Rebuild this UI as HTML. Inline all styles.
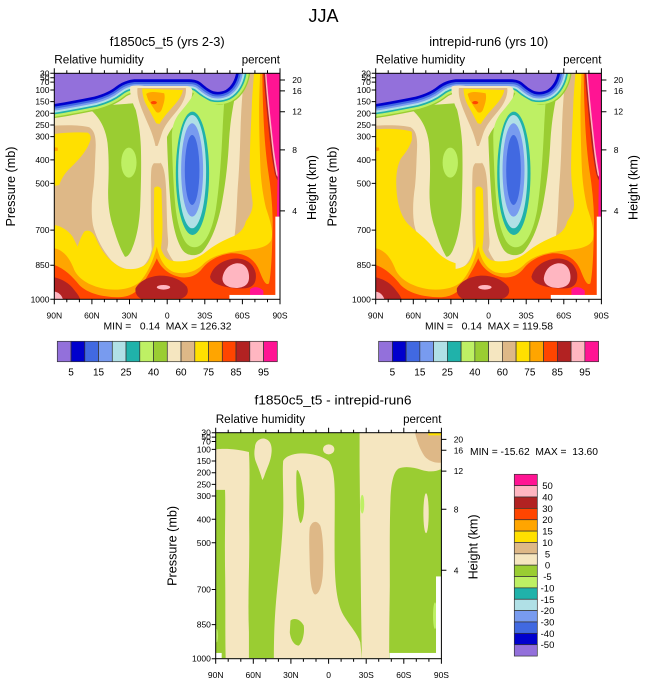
<!DOCTYPE html>
<html><head><meta charset="utf-8">
<style>
html,body{margin:0;padding:0;background:#fff;}
svg{display:block;font-family:"Liberation Sans",Arial,sans-serif;}
</style></head>
<body>
<svg width="647" height="683" viewBox="0 0 647 683" xmlns="http://www.w3.org/2000/svg">
<defs>
<clipPath id="cp"><rect x="0" y="0" width="678" height="678"/></clipPath>
<path id="P" d="M-200,-200 L548,-200 L546,0 C542,20 532,40 515,50 C502,56 490,57 478,54 C462,48 452,38 440,28 C428,20 418,18 400,18 L240,18 C220,20 200,28 185,40 C170,52 150,62 120,70 C80,78 40,86 0,92 L-120,110 Z"/>

<g id="L1">
<rect x="0" y="0" width="678" height="678" fill="#DEB887"/>
<path fill="#F5E6C0" d="M0,157 C40,155 80,155 105,162 C122,172 126,195 124,230 C122,270 122,300 118,340 C112,380 110,420 116,455 C124,490 145,530 170,560 C190,580 215,590 240,590 C262,588 278,572 288,545 C294,525 298,510 300,500 L330,500 C336,530 350,560 372,576 C400,592 440,590 480,575 C510,560 530,535 540,500 C548,450 548,380 552,330 C556,280 558,220 560,150 C562,100 565,50 572,0 L0,0 Z"/>
<path fill="#DEB887" d="M292,285 C295,270 305,262 316,265 C328,275 334,300 336,350 C338,400 338,450 341,490 C344,515 340,540 325,548 C310,552 298,548 293,530 C290,490 290,420 290,370 C290,330 290,300 292,285 Z"/>
</g>

<g id="RX">
<path fill="#FFE000" d="M0,168 C40,165 90,168 108,175 C112,195 100,220 82,245 C66,268 60,300 62,340 C64,390 75,430 100,455 C125,478 150,495 170,520 C190,545 210,560 240,570 L240,678 L0,678 Z"/>
<path fill="#FFA500" d="M0,210 L15,215 L18,240 L12,268 L0,270 Z"/>
</g>

<g id="L2">
<path fill="#FFE000" d="M0,455 C20,458 40,470 55,490 L70,520 C75,505 80,490 90,475 C100,468 115,472 125,495 C140,530 160,560 200,583 C230,592 260,588 280,568 C292,550 300,520 310,470 C316,520 325,550 345,560 C380,570 420,562 450,540 C480,515 510,500 540,488 C560,478 572,462 575,445 C585,430 596,415 596,390 C592,350 586,320 587,270 C588,200 592,140 594,80 C596,50 598,25 600,0 L678,0 L678,678 L0,678 Z"/>
<path fill="#FFE000" d="M300,345 C304,337 318,337 322,350 L325,450 C325,500 320,530 314,560 L304,560 C301,520 299,480 299,450 Z"/>
<path fill="#FFE000" d="M0,182 C30,178 70,176 100,178 C110,183 112,195 105,210 C95,235 75,258 50,282 C30,300 20,320 15,335 L0,338 Z"/>
<path fill="#FFA500" d="M0,222 L10,223 L11,232 L0,234 Z"/>
<path fill="#FFA500" d="M0,525 C25,530 45,550 60,590 C75,620 110,640 160,648 C200,652 235,645 258,625 C280,600 298,560 308,520 C315,555 330,585 360,597 C400,606 430,592 450,570 C475,548 510,538 560,532 C600,528 640,525 652,500 C658,475 650,445 636,405 C628,370 621,330 619,280 C616,200 614,120 616,60 L618,0 L678,0 L678,678 L0,678 Z"/>
<path fill="#FF4500" d="M0,575 C30,585 55,610 75,635 C100,660 140,670 190,672 C230,672 250,655 268,628 C285,600 300,575 308,555 C320,585 345,605 380,612 C410,615 430,605 445,585 C465,560 495,545 530,540 C570,538 600,555 615,590 C625,615 635,640 645,630 C652,600 655,520 656,440 C655,390 650,340 642,290 C635,240 630,180 628,120 C626,70 625,30 625,0 L678,0 L678,678 L0,678 Z"/>
<path fill="#B22222" d="M628,0 C632,50 638,110 645,180 C650,230 656,270 662,300 C666,315 672,325 678,330 L678,0 Z"/>
<path fill="#FFB6C1" d="M633,0 C637,60 643,120 651,190 C656,240 661,275 667,305 L678,322 L678,0 Z"/>
<path fill="#FF1493" d="M637,0 C641,55 648,120 656,195 C660,235 665,265 670,295 C673,320 676,340 678,360 L678,0 Z"/>
<path fill="#FF1493" d="M671,300 L678,298 L678,430 L669,430 C669,380 670,340 671,300 Z"/>
<path fill="#B22222" d="M0,612 C25,618 45,630 60,650 C70,662 75,670 78,678 L0,678 Z"/>
<path fill="#FFB6C1" d="M0,655 C12,656 22,665 26,678 L0,678 Z"/>
<path fill="#B22222" d="M244,645 C255,625 280,610 315,607 C350,606 380,618 398,640 C405,655 400,670 380,676 L260,676 C248,670 242,658 244,645 Z"/>
<ellipse cx="328" cy="642" rx="20" ry="7" fill="#FFB6C1"/>
<path fill="#B22222" d="M468,610 C475,580 505,560 540,556 C575,554 598,570 605,600 C608,625 600,642 575,645 C540,648 500,640 480,628 C472,622 468,616 468,610 Z"/>
<path fill="#FFB6C1" d="M505,615 C508,590 525,572 550,570 C575,570 585,590 585,612 C585,630 575,642 550,644 C525,645 505,635 505,615 Z"/>
<path fill="#FF1493" d="M588,648 C600,638 615,640 628,652 L628,665 L588,665 Z"/>
<rect x="526" y="665" width="152" height="13" fill="#fff"/>
<rect x="664" y="430" width="14" height="248" fill="#fff"/>
</g>

<g id="L3">
<path fill="#9ACD32" d="M100,100 L240,90 C250,130 258,170 260,220 C262,280 260,350 258,400 C255,460 245,500 232,530 C225,545 218,552 212,550 C200,530 190,505 178,465 C166,430 160,390 162,340 C164,290 164,250 160,210 C155,170 140,140 118,118 Z"/>
<ellipse cx="224" cy="268" rx="23" ry="45" fill="#BEF064"/>
<path fill="#9ACD32" d="M330,60 L545,60 C536,100 528,150 525,200 C522,260 516,320 505,380 C495,440 475,500 445,535 C430,550 400,550 385,530 C365,500 355,450 350,400 C344,330 340,250 338,180 C336,130 333,90 330,60 Z"/>
<g stroke-linejoin="round">
<use href="#P" fill="#9ACD32" stroke="#9ACD32" stroke-width="84"/>
<use href="#P" fill="#BEF064" stroke="#BEF064" stroke-width="76"/>
<use href="#P" fill="#20B2AA" stroke="#20B2AA" stroke-width="62"/>
<use href="#P" fill="#B0E0E6" stroke="#B0E0E6" stroke-width="52"/>
<use href="#P" fill="#789BEF" stroke="#789BEF" stroke-width="40"/>
<use href="#P" fill="#4169E1" stroke="#4169E1" stroke-width="28"/>
<use href="#P" fill="#0000CD" stroke="#0000CD" stroke-width="16"/>
<use href="#P" fill="#9370DB"/>
</g>
<path fill="#F5E6C0" d="M228,40 C235,36 250,36 270,38 L390,38 C405,38 415,42 415,55 C414,80 400,110 375,140 C355,160 340,180 330,215 C326,240 322,262 318,270 L300,270 C296,250 290,220 282,195 C270,160 255,130 240,100 C232,80 226,55 228,40 Z"/>
<path fill="#DEB887" d="M250,44 L395,44 C398,60 390,85 372,108 C355,130 335,150 325,175 C318,195 314,210 310,218 L304,218 C300,200 294,180 285,160 C272,130 258,100 252,75 C249,62 249,50 250,44 Z"/>
<path fill="#FFE000" d="M264,46 L386,50 C385,62 375,80 358,98 C340,118 325,135 316,152 L306,150 C296,130 285,110 275,92 C268,78 264,60 264,46 Z"/>
<path fill="#FFA500" d="M276,62 C285,55 300,54 330,60 C334,72 330,90 322,110 C318,118 312,120 306,116 C298,105 290,92 282,80 Z"/>
<ellipse cx="299" cy="88" rx="9" ry="5" fill="#FF4500"/>
<path fill="#BEF064" d="M420,60 C440,66 458,78 478,92 C490,96 500,96 510,92 C508,120 506,160 504,200 C500,280 494,350 485,410 C474,470 458,500 440,515 C422,528 402,522 390,500 C374,470 366,430 362,380 C357,320 354,250 353,190 C353,160 362,135 380,115 C395,98 410,78 420,60 Z"/>
<ellipse cx="415" cy="300" rx="50" ry="185" fill="#20B2AA"/>
<ellipse cx="414" cy="295" rx="42" ry="170" fill="#B0E0E6"/>
<ellipse cx="414" cy="290" rx="33" ry="140" fill="#789BEF"/>
<ellipse cx="414" cy="290" rx="22" ry="105" fill="#4169E1"/>
</g>

<g id="D">
<rect x="0" y="0" width="678" height="678" fill="#9ACD32"/>
<path fill="#F5E6C0" d="M0,50 C30,46 70,50 100,58 C104,120 100,200 101,300 C102,400 96,500 100,600 L100,678 L30,678 C28,600 30,500 28,400 C27,300 30,220 28,172 L0,172 Z"/>
<path fill="#F5E6C0" d="M118,45 C118,25 135,15 148,18 C165,22 170,40 168,60 C166,85 155,105 148,125 C145,135 142,140 140,142 C136,125 128,105 120,85 C115,70 116,55 118,45 Z"/>
<path fill="#F5E6C0" d="M203,85 C210,70 235,62 260,62 C290,62 320,70 340,85 C352,100 357,130 358,170 C359,230 357,300 358,380 C359,440 362,500 380,540 C395,570 425,600 435,630 L440,678 L175,678 C175,600 178,540 185,470 C192,400 200,330 203,250 C205,180 200,120 203,85 Z"/>
<ellipse cx="340" cy="50" rx="17" ry="15" fill="#F5E6C0"/>
<path fill="#9ACD32" d="M245,112 C252,112 262,150 266,200 C268,240 262,268 255,272 C248,262 244,220 243,180 C242,140 242,115 245,112 Z"/>
<path fill="#DEB887" d="M283,285 C290,265 305,262 315,280 C324,310 326,380 322,430 C318,470 308,488 298,486 C288,480 284,440 283,400 C282,350 280,310 283,285 Z"/>
<path fill="#9ACD32" d="M225,565 C235,555 255,560 265,580 C268,600 262,630 250,640 C235,640 225,620 223,600 Z"/>
<path fill="#F5E6C0" d="M433,0 L678,0 L678,110 C660,118 640,118 620,112 C595,104 570,100 550,108 C535,118 528,150 526,200 C523,280 524,380 524,460 C523,540 522,600 522,678 L440,678 C438,580 437,480 436,380 C435,280 434,180 433,100 Z"/>
<path fill="#DEB887" d="M600,0 L678,0 L678,90 C660,92 640,85 628,70 C615,50 605,25 600,0 Z"/>
<rect x="640" y="0" width="38" height="8" fill="#FFE000"/>
<ellipse cx="633" cy="242" rx="8" ry="60" fill="#F5E6C0"/>
<ellipse cx="441" cy="215" rx="6" ry="28" fill="#BEF064"/>
<ellipse cx="660" cy="550" rx="6" ry="40" fill="#BEF064"/>
<ellipse cx="666" cy="560" rx="3" ry="18" fill="#20B2AA"/>
<ellipse cx="3" cy="610" rx="4" ry="20" fill="#BEF064"/>
<rect x="0" y="662" width="18" height="16" fill="#fff"/>
<rect x="523" y="662" width="155" height="16" fill="#fff"/>
<rect x="663" y="432" width="15" height="246" fill="#fff"/>
</g>

<g id="AX">
<rect x="54.3" y="73.3" width="225.7" height="226" fill="none" stroke="#000" stroke-width="1"/>
<path stroke="#000" stroke-width="1" fill="none" d="M54.3,73.3v-5M91.9,73.3v-5M129.5,73.3v-5M167.2,73.3v-5M204.8,73.3v-5M242.4,73.3v-5M280,73.3v-5M66.8,73.3v-3M79.4,73.3v-3M104.4,73.3v-3M117,73.3v-3M142,73.3v-3M154.6,73.3v-3M179.7,73.3v-3M192.2,73.3v-3M217.3,73.3v-3M229.9,73.3v-3M254.9,73.3v-3M267.5,73.3v-3M54.3,299.3v5M91.9,299.3v5M129.5,299.3v5M167.2,299.3v5M204.8,299.3v5M242.4,299.3v5M280,299.3v5M66.8,299.3v3M79.4,299.3v3M104.4,299.3v3M117,299.3v3M142,299.3v3M154.6,299.3v3M179.7,299.3v3M192.2,299.3v3M217.3,299.3v3M229.9,299.3v3M254.9,299.3v3M267.5,299.3v3M54.3,73.3h-4M54.3,77.7h-4M54.3,82.1h-4M54.3,90h-4M54.3,101.6h-4M54.3,113.3h-4M54.3,125h-4M54.3,136.6h-4M54.3,159.9h-4M54.3,183.4h-4M54.3,230.1h-4M54.3,265.2h-4M54.3,299.3h-4M280,80h5M280,90.9h5M280,111.7h5M280,149.9h5M280,210.9h5"/>
<g font-size="8.5" text-anchor="end" fill="#000">
<text x="49.5" y="76.3">30</text>
<text x="49.5" y="80.7">50</text>
<text x="49.5" y="85.1">70</text>
<text x="49.5" y="93">100</text>
<text x="49.5" y="104.6">150</text>
<text x="49.5" y="116.3">200</text>
<text x="49.5" y="128">250</text>
<text x="49.5" y="139.6">300</text>
<text x="49.5" y="162.9">400</text>
<text x="49.5" y="186.4">500</text>
<text x="49.5" y="233.1">700</text>
<text x="49.5" y="268.2">850</text>
<text x="49.5" y="302.3">1000</text>
</g>
<g font-size="8.5" text-anchor="start" fill="#000">
<text x="292.3" y="83">20</text>
<text x="292.3" y="93.9">16</text>
<text x="292.3" y="114.7">12</text>
<text x="292.3" y="152.9">8</text>
<text x="292.3" y="213.9">4</text>
</g>
<g font-size="8.5" text-anchor="middle" fill="#000">
<text x="54.3" y="318.5">90N</text>
<text x="91.9" y="318.5">60N</text>
<text x="129.5" y="318.5">30N</text>
<text x="167.2" y="318.5">0</text>
<text x="204.8" y="318.5">30S</text>
<text x="242.4" y="318.5">60S</text>
<text x="280" y="318.5">90S</text>
</g>
<text x="54.3" y="63.5" font-size="11.5" textLength="89.5" lengthAdjust="spacingAndGlyphs">Relative humidity</text>
<text x="280" y="63.5" font-size="11.5" text-anchor="end" textLength="38.3" lengthAdjust="spacingAndGlyphs">percent</text>
<text transform="translate(15,186.5) rotate(-90)" font-size="12.5" text-anchor="middle" textLength="80" lengthAdjust="spacingAndGlyphs">Pressure (mb)</text>
<text transform="translate(316,187.5) rotate(-90)" font-size="12.5" text-anchor="middle" textLength="65" lengthAdjust="spacingAndGlyphs">Height (km)</text>
</g>

<g id="CB">
<g stroke="#333" stroke-width="0.7">
<rect x="57.3" y="341.3" width="13.75" height="20.4" fill="#9370DB"/>
<rect x="71.05" y="341.3" width="13.75" height="20.4" fill="#0000CD"/>
<rect x="84.8" y="341.3" width="13.75" height="20.4" fill="#4169E1"/>
<rect x="98.55" y="341.3" width="13.75" height="20.4" fill="#789BEF"/>
<rect x="112.3" y="341.3" width="13.75" height="20.4" fill="#B0E0E6"/>
<rect x="126.05" y="341.3" width="13.75" height="20.4" fill="#20B2AA"/>
<rect x="139.8" y="341.3" width="13.75" height="20.4" fill="#BEF064"/>
<rect x="153.55" y="341.3" width="13.75" height="20.4" fill="#9ACD32"/>
<rect x="167.3" y="341.3" width="13.75" height="20.4" fill="#F5E6C0"/>
<rect x="181.05" y="341.3" width="13.75" height="20.4" fill="#DEB887"/>
<rect x="194.8" y="341.3" width="13.75" height="20.4" fill="#FFE000"/>
<rect x="208.55" y="341.3" width="13.75" height="20.4" fill="#FFA500"/>
<rect x="222.3" y="341.3" width="13.75" height="20.4" fill="#FF4500"/>
<rect x="236.05" y="341.3" width="13.75" height="20.4" fill="#B22222"/>
<rect x="249.8" y="341.3" width="13.75" height="20.4" fill="#FFB6C1"/>
<rect x="263.55" y="341.3" width="13.75" height="20.4" fill="#FF1493"/>
</g>
<g font-size="10" text-anchor="middle" fill="#000">
<text x="71.05" y="375.5">5</text>
<text x="98.55" y="375.5">15</text>
<text x="126.05" y="375.5">25</text>
<text x="153.55" y="375.5">40</text>
<text x="181.05" y="375.5">60</text>
<text x="208.55" y="375.5">75</text>
<text x="236.05" y="375.5">85</text>
<text x="263.55" y="375.5">95</text>
</g>
</g>
</defs>

<rect x="0" y="0" width="647" height="683" fill="#fff"/>

<text x="323.5" y="22" font-size="18" text-anchor="middle">JJA</text>

<!-- Left top panel -->
<text x="167.2" y="46" font-size="13" text-anchor="middle" textLength="115" lengthAdjust="spacingAndGlyphs">f1850c5_t5 (yrs 2-3)</text>
<g transform="translate(54.3,73.3) scale(0.3329,0.3333)">
<g clip-path="url(#cp)">
<use href="#L1"/><use href="#L2"/><use href="#L3"/>
</g>
</g>
<use href="#AX"/>
<text x="167.5" y="329.5" font-size="10" text-anchor="middle" textLength="128" lengthAdjust="spacingAndGlyphs" xml:space="preserve">MIN =   0.14  MAX = 126.32</text>
<use href="#CB"/>

<!-- Right top panel -->
<text x="488.8" y="46" font-size="13" text-anchor="middle" textLength="119" lengthAdjust="spacingAndGlyphs">intrepid-run6 (yrs 10)</text>
<g transform="translate(375.7,73.3) scale(0.3329,0.3333)">
<g clip-path="url(#cp)">
<use href="#L1"/><use href="#RX"/><use href="#L2"/><use href="#L3"/>
</g>
</g>
<use href="#AX" transform="translate(321.4,0)"/>
<text x="489" y="329.5" font-size="10" text-anchor="middle" textLength="128" lengthAdjust="spacingAndGlyphs" xml:space="preserve">MIN =   0.14  MAX = 119.58</text>
<use href="#CB" transform="translate(321.3,0)"/>

<!-- Bottom difference panel -->
<text x="333" y="404.5" font-size="13" text-anchor="middle" textLength="157" lengthAdjust="spacingAndGlyphs">f1850c5_t5 - intrepid-run6</text>
<g transform="translate(215.7,432.7) scale(0.3323,0.3327)">
<g clip-path="url(#cp)">
<use href="#D"/>
</g>
</g>
<use href="#AX" transform="translate(161.4,359.4)"/>
<text x="470" y="455" font-size="10" textLength="128" lengthAdjust="spacingAndGlyphs" xml:space="preserve">MIN = -15.62  MAX =  13.60</text>

<g stroke="#333" stroke-width="0.7">
<rect x="514.3" y="474.3" width="23" height="11.36" fill="#FF1493"/>
<rect x="514.3" y="485.66" width="23" height="11.36" fill="#FFB6C1"/>
<rect x="514.3" y="497.02" width="23" height="11.36" fill="#B22222"/>
<rect x="514.3" y="508.38" width="23" height="11.36" fill="#FF4500"/>
<rect x="514.3" y="519.74" width="23" height="11.36" fill="#FFA500"/>
<rect x="514.3" y="531.1" width="23" height="11.36" fill="#FFE000"/>
<rect x="514.3" y="542.46" width="23" height="11.36" fill="#DEB887"/>
<rect x="514.3" y="553.82" width="23" height="11.36" fill="#F5E6C0"/>
<rect x="514.3" y="565.18" width="23" height="11.36" fill="#9ACD32"/>
<rect x="514.3" y="576.54" width="23" height="11.36" fill="#BEF064"/>
<rect x="514.3" y="587.9" width="23" height="11.36" fill="#20B2AA"/>
<rect x="514.3" y="599.26" width="23" height="11.36" fill="#B0E0E6"/>
<rect x="514.3" y="610.62" width="23" height="11.36" fill="#789BEF"/>
<rect x="514.3" y="621.98" width="23" height="11.36" fill="#4169E1"/>
<rect x="514.3" y="633.34" width="23" height="11.36" fill="#0000CD"/>
<rect x="514.3" y="644.7" width="23" height="11.36" fill="#9370DB"/>
</g>
<g font-size="9.5" text-anchor="middle" fill="#000">
<text x="547.5" y="489.2">50</text>
<text x="547.5" y="500.5">40</text>
<text x="547.5" y="511.9">30</text>
<text x="547.5" y="523.2">20</text>
<text x="547.5" y="534.6">15</text>
<text x="547.5" y="546">10</text>
<text x="547.5" y="557.3">5</text>
<text x="547.5" y="568.7">0</text>
<text x="547.5" y="580">-5</text>
<text x="547.5" y="591.4">-10</text>
<text x="547.5" y="602.8">-15</text>
<text x="547.5" y="614.1">-20</text>
<text x="547.5" y="625.5">-30</text>
<text x="547.5" y="636.8">-40</text>
<text x="547.5" y="648.2">-50</text>
</g>
</svg>
</body></html>
